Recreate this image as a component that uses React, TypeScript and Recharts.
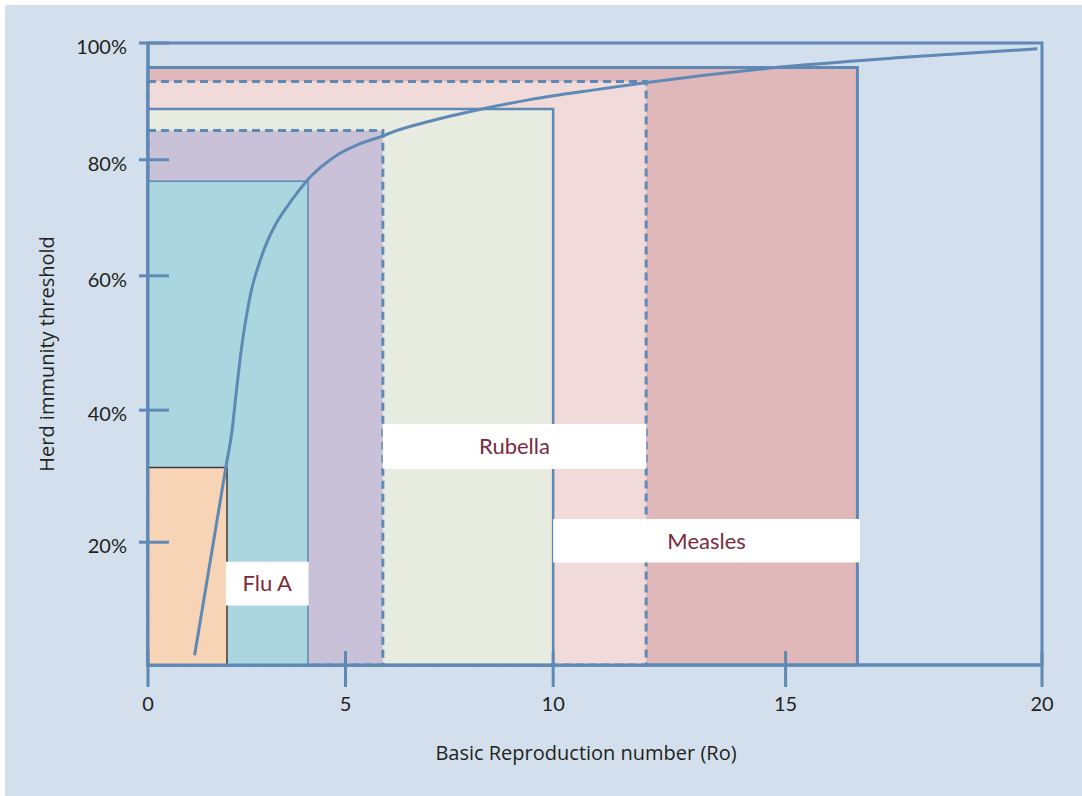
import { ComposedChart, Line, XAxis, YAxis, ReferenceArea, Label } from 'recharts';

const FONT = 'Lato, "Noto Sans", sans-serif';
const TITLE_FONT = '"Open Sans", "Noto Sans", sans-serif';
const BLUE = '#5f89b5';
const INK = '#231f20';
const MAROON = '#7a2b3d';

// axis ticks
const xTicks = [0, 5, 10, 15, 20];
const yTicks = [20, 40, 60, 80, 100];

// the figure's axes are hand drawn and not evenly spaced: where each tick
// sits along its axis, as a fraction of the axis length
const xKnots = [0, 5, 10, 15, 20];
const xKnotStops = [0, 0.2209, 0.4532, 0.7132, 1];
const yKnots = [0, 20, 40, 60, 80, 100];
const yKnotStops = [0, 0.1974, 0.4097, 0.6257, 0.8123, 1];

// threshold boxes: each spans Ro 0..boxR0 and threshold 0..boxThreshold
const boxNames = ['Measles high', 'Measles low', 'Rubella high', 'Rubella low', 'Flu A high', 'Flu A low'];
const boxR0 = [16.4, 12, 10, 5.9, 4.05, 2];
const boxThreshold = [95.8, 93.4, 88.7, 85, 76.3, 31.3];

// disease name tags
const tagNames = ['Rubella', 'Measles', 'Flu A'];
const tagR0From = [5.9, 10, 1.97];
const tagR0To = [12, 16.45, 4.07];
const tagHitFrom = [31.1, 16.7, 9.7];
const tagHitTo = [37.9, 23.5, 16.8];

// herd immunity threshold curve
const curveR0 = [1.18, 1.97, 2.13, 2.24, 2.32, 2.41, 2.49, 2.62, 2.79, 3.0, 3.25, 3.55, 3.8, 4.05, 4.39, 4.81, 5.3, 5.87, 6.19, 7.03, 8.23, 9.44, 11.0, 11.98, 14.66, 17.23, 19.91];
const curveHit = [1.6, 31.3, 37.0, 43.0, 47.0, 51.0, 53.9, 57.9, 61.6, 65.6, 69.1, 72.2, 74.5, 76.6, 78.8, 80.9, 82.6, 84.0, 84.9, 86.6, 88.6, 90.3, 92.1, 93.2, 95.7, 97.5, 99.0];

const boxLook = [
  { fill: '#e1b8b9', stroke: BLUE, width: 3 },
  { fill: '#f0dbda', stroke: BLUE, width: 3, dash: '8 5' },
  { fill: '#e8ebdf', stroke: BLUE, width: 2.5 },
  { fill: '#c9c1d7', stroke: BLUE, width: 3, dash: '8 5' },
  { fill: '#acd6df', stroke: BLUE, width: 1.5 },
  { fill: '#f7d4b6', stroke: '#3a3a3a', width: 1.5 },
];

// piecewise linear scale, d3-like enough for recharts
function warpScale(knots: number[], stops: number[]): any {
  let dom = [knots[0], knots[knots.length - 1]];
  let rng = [0, 1];
  const scale: any = (v: number) => {
    let i = 1;
    while (i < knots.length - 1 && v > knots[i]) i++;
    const t = (v - knots[i - 1]) / (knots[i] - knots[i - 1]);
    const f = stops[i - 1] + t * (stops[i] - stops[i - 1]);
    return rng[0] + f * (rng[1] - rng[0]);
  };
  scale.domain = (d?: number[]) => {
    if (d === undefined) return dom.slice();
    dom = [...d];
    return scale;
  };
  scale.range = (r?: number[]) => {
    if (r === undefined) return rng.slice();
    rng = [...r];
    return scale;
  };
  scale.copy = () => warpScale(knots, stops).domain(dom).range(rng);
  scale.ticks = () => knots.slice();
  scale.tickFormat = () => (v: number) => String(v);
  scale.invert = (px: number) => {
    const f = (px - rng[0]) / (rng[1] - rng[0]);
    let i = 1;
    while (i < stops.length - 1 && f > stops[i]) i++;
    const t = (f - stops[i - 1]) / (stops[i] - stops[i - 1]);
    return knots[i - 1] + t * (knots[i] - knots[i - 1]);
  };
  return scale;
}

const xScale = warpScale(xKnots, xKnotStops);
const yScale = warpScale(yKnots, yKnotStops);

const curve = curveR0.map((r0, i) => ({ r0, hit: curveHit[i] }));

const XTick = (props: any) => {
  const { x, y, payload } = props;
  return (
    <g>
      <line x1={x} x2={x} y1={y - 14} y2={y + 22} stroke={BLUE} strokeWidth={3} />
      <text x={x} y={y + 39} dy="0.36em" textAnchor="middle" fill={INK} fontSize={20} fontFamily={FONT}>
        {payload.value}
      </text>
    </g>
  );
};

const YTick = (props: any) => {
  const { x, y, payload } = props;
  return (
    <g>
      <line x1={x - 9} x2={x + 21} y1={y} y2={y} stroke={BLUE} strokeWidth={3} />
      <text x={x - 21} y={y + 4} dy="0.36em" textAnchor="end" fill={INK} fontSize={20} fontFamily={FONT}>
        {`${payload.value}%`}
      </text>
    </g>
  );
};

const XTitle = (props: any) => {
  const vb = props.viewBox;
  return (
    <text x={vb.x + vb.width / 2 - 9} y={vb.y + 88} dy="0.36em" textAnchor="middle" fill={INK} fontSize={20} fontFamily={TITLE_FONT}>
      Basic Reproduction number (Ro)
    </text>
  );
};

const YTitle = (props: any) => {
  const vb = props.viewBox;
  const cx = vb.x + 41.7;
  const cy = vb.y + vb.height / 2;
  return (
    <text x={cx} y={cy} dy="0.36em" textAnchor="middle" fill={INK} fontSize={20} fontFamily={TITLE_FONT} transform={`rotate(-90 ${cx} ${cy})`}>
      Herd immunity threshold
    </text>
  );
};

export default function App() {
  return (
    <div style={{ position: 'absolute', left: 0, top: 0, width: 1082, height: 796, background: '#fff' }}>
      <div style={{ position: 'absolute', left: 5, top: 5, width: 1077, height: 791, background: '#d3dfec' }}>
        <ComposedChart width={1077} height={791} data={curve} margin={{ top: 38, right: 40, bottom: 0, left: 0 }}>
          <ReferenceArea x1={0} x2={20} y1={0} y2={100} fill="none" stroke={BLUE} strokeWidth={3} ifOverflow="visible" />
          {boxNames.map((name, i) => (
            <ReferenceArea
              key={name}
              x1={0}
              x2={boxR0[i]}
              y1={0}
              y2={boxThreshold[i]}
              fill={boxLook[i].fill}
              fillOpacity={1}
              stroke={boxLook[i].stroke}
              strokeWidth={boxLook[i].width}
              strokeDasharray={boxLook[i].dash}
              ifOverflow="visible"
            />
          ))}
          {tagNames.map((name, i) => (
            <ReferenceArea
              key={name}
              x1={tagR0From[i]}
              x2={tagR0To[i]}
              y1={tagHitFrom[i]}
              y2={tagHitTo[i]}
              fill="#ffffff"
              fillOpacity={1}
              stroke="none"
              ifOverflow="visible"
              label={{ value: name, position: 'center', fill: MAROON, fontSize: 22, fontFamily: FONT }}
            />
          ))}
          <Line
            dataKey="hit"
            type="monotone"
            stroke={BLUE}
            strokeWidth={3}
            dot={false}
            activeDot={false}
            isAnimationActive={false}
          />
          <XAxis
            dataKey="r0"
            type="number"
            domain={[0, 20]}
            scale={xScale}
            ticks={xTicks}
            interval={0}
            height={131}
            tickSize={0}
            tickMargin={0}
            tickLine={false}
            tick={XTick}
            axisLine={{ stroke: BLUE, strokeWidth: 3 }}
          >
            <Label content={XTitle} />
          </XAxis>
          <YAxis
            type="number"
            domain={[0, 100]}
            scale={yScale}
            ticks={yTicks}
            interval={0}
            width={143}
            tickSize={0}
            tickMargin={0}
            tickLine={false}
            tick={YTick}
            axisLine={{ stroke: BLUE, strokeWidth: 3 }}
          >
            <Label content={YTitle} />
          </YAxis>
        </ComposedChart>
      </div>
    </div>
  );
}
